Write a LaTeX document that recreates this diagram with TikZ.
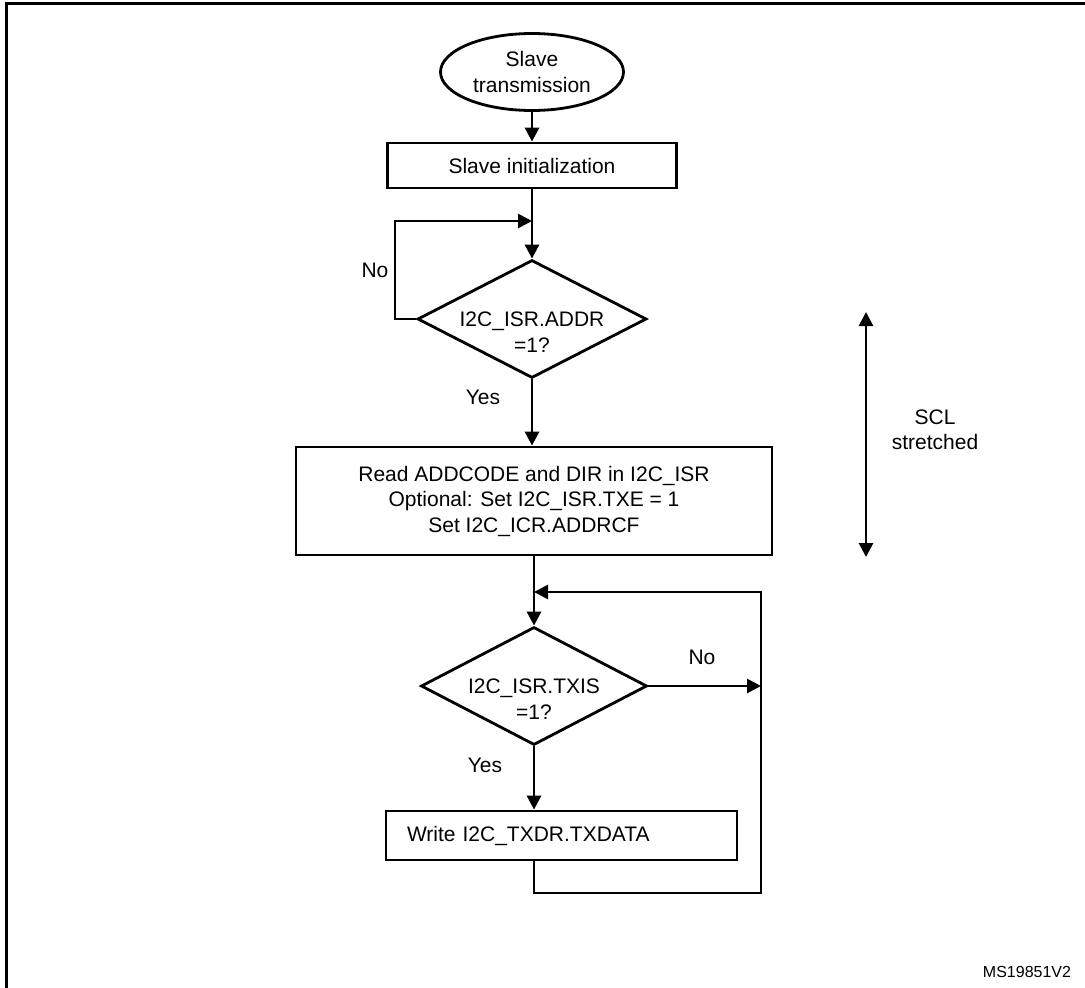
\documentclass[tikz,border=0pt]{standalone}
\usepackage{fontspec}
\setmainfont{Liberation Sans}
\usetikzlibrary{shapes.geometric,arrows.meta}
\tikzset{
  base/.style={draw=black,line width=2.8pt,inner sep=0pt,font=\fontsize{21}{25.5}\selectfont,align=center},
  term/.style={base,ellipse,minimum width=183pt,minimum height=77pt},
  proc/.style={base,rectangle},
  decis/.style={base,diamond,minimum width=229pt,minimum height=118pt},
  lbl/.style={font=\fontsize{21}{25.5}\selectfont,inner sep=0pt,align=center},
  conn/.style={line width=2.8pt,draw=black},
  arr/.style={conn,-{Triangle[length=14pt,width=14pt]}},
  arrboth/.style={conn,{Triangle[length=14pt,width=14pt]}-{Triangle[length=14pt,width=14pt]}},
}
\begin{document}
\begin{tikzpicture}[x=1pt,y=-1pt]
\useasboundingbox (0,0) rectangle (1085,988);
\fill[white] (0,0) rectangle (1085,988);
\draw[line width=3pt] (6,1000) -- (6,3) -- (1095,3);

\node[term] (start) at (532,72) {Slave\\transmission};
\node[proc,minimum width=289pt,minimum height=45pt] (init) at (532,165.5) {Slave initialization};
\node[decis,label={[lbl,yshift=-13pt,name=d1t]center:I2C\_ISR.ADDR\\=1?}] (d1) at (532,319) {};
\node[proc,minimum width=476pt,minimum height=108pt] (rd) at (534,501) {Read ADDCODE and DIR in I2C\_ISR\\Optional: Set I2C\_ISR.TXE = 1\\Set I2C\_ICR.ADDRCF};
\node[decis,minimum width=226pt,label={[lbl,yshift=-13pt,name=d2t]center:I2C\_ISR.TXIS\\=1?}] (d2) at (534,686) {};
\node[proc,minimum width=351pt,minimum height=49pt,text width=309pt,inner xsep=21pt,align=left] (wr) at (561.5,835.5) {Write I2C\_TXDR.TXDATA};

\coordinate (m1) at (532,221);
\coordinate (l1a) at (395,319);
\coordinate (l1b) at (395,221);
\coordinate (m2) at (534,592);
\coordinate (r2) at (761,686);
\coordinate (b2a) at (534,893);
\coordinate (b2b) at (761,893);
\coordinate (b2c) at (761,592);
\coordinate (sclt) at (866,312);
\coordinate (sclb) at (866,557);

\draw[arr] (start.south) -- (init.north);
\draw[arr] (init.south) -- (d1.north);
\draw[arr] (d1.west) -- (l1a) -- (l1b) -- (m1);
\draw[arr] (d1.south) -- (d1.south |- rd.north);
\draw[arr] (rd.south -| d2.north) -- (d2.north);
\draw[arr] (d2.east) -- (r2);
\draw[arr] (d2.south) -- (d2.south |- wr.north);
\draw[arr] (wr.south -| b2a) -- (b2a) -- (b2b) -- (b2c) -- (m2);
\draw[arrboth] (sclt) -- (sclb);

\node[lbl] (no1) at (375,270) {No};
\node[lbl] (yes1) at (483,397) {Yes};
\node[lbl] (no2) at (702,657) {No};
\node[lbl] (yes2) at (485,765) {Yes};
\node[lbl] (scl) at (935,430) {SCL\\stretched};
\node[font=\fontsize{16}{18}\selectfont,inner sep=0pt] (ms) at (1027,972) {MS19851V2};
\end{tikzpicture}
\end{document}
